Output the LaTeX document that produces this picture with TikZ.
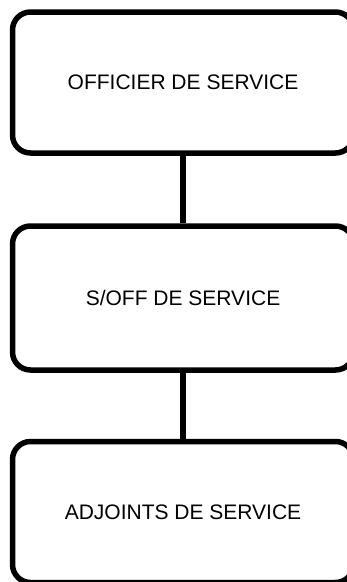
\documentclass[tikz,border=0pt]{standalone}
\usepackage{fontspec}
\setmainfont{Liberation Sans}
\begin{document}
\begin{tikzpicture}[x=1pt,y=-1pt,line join=round,line cap=round]
            \tikzset{poste/.style={draw=black,line width=5.5pt,rounded corners=18pt,
                    minimum width=341pt,minimum height=141pt,inner sep=0pt,
                    font=\fontsize{21}{25}\selectfont},
                lien/.style={line width=5.5pt,line cap=butt}}
            \useasboundingbox (0,0) rectangle (346,582);
            \node[poste] (off) at (183,82.5) {OFFICIER DE SERVICE};
            \node[poste,minimum height=144pt] (soff) at (183,298) {S/OFF DE SERVICE};
            \node[poste] (adj) at (183,512) {ADJOINTS DE SERVICE};
            \draw[lien] (off.south) -- (soff.north);
            \draw[lien] (soff.south) -- (adj.north);
    \end{tikzpicture}
\end{document}
